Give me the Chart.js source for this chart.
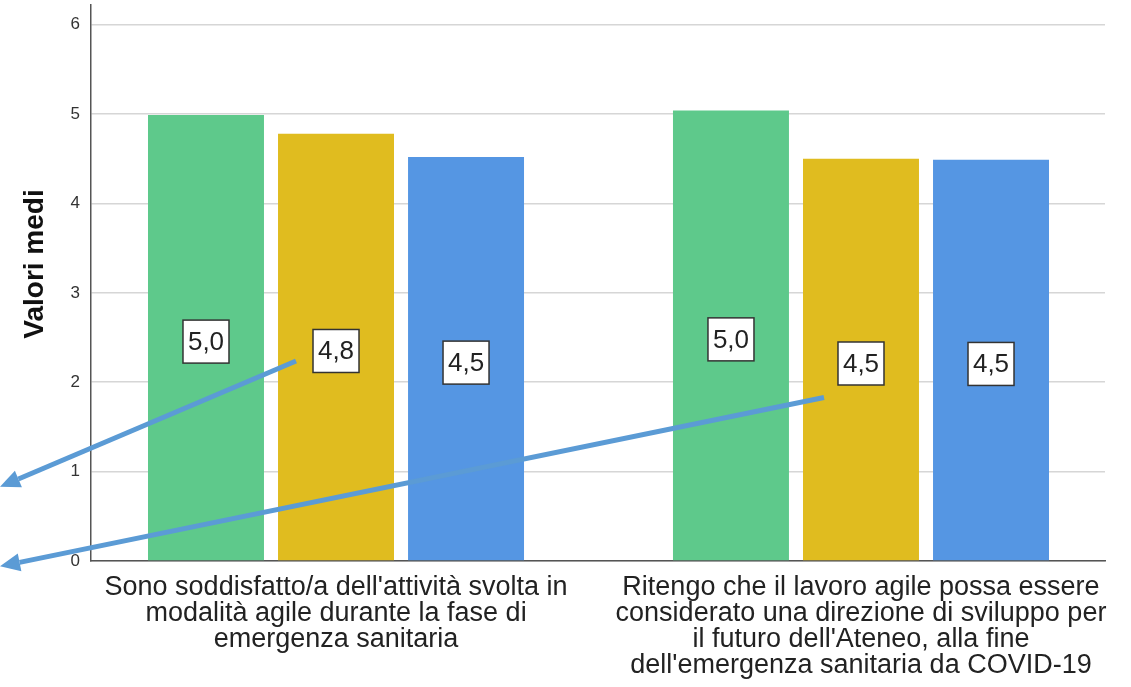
<!DOCTYPE html>
<html>
<head>
<meta charset="utf-8">
<script src="https://cdn.jsdelivr.net/npm/chart.js@4/dist/chart.umd.min.js"></script>
<style>
  html, body { margin: 0; padding: 0; background: #fff; }
</style>
</head>
<body>
<canvas id="chart" width="1131" height="687"></canvas>
<script>
// category labels, already broken into lines as in the picture
var categories = [
  ["Sono soddisfatto/a dell'attività svolta in", "modalità agile durante la fase di", "emergenza sanitaria"],
  ["Ritengo che il lavoro agile possa essere", "considerato una direzione di sviluppo per", "il futuro dell'Ateneo, alla fine", "dell'emergenza sanitaria da COVID-19"]
];
var greenValues = [4.99, 5.04];
var yellowValues = [4.78, 4.50];
var blueValues = [4.52, 4.49];
var yTicks = [0, 1, 2, 3, 4, 5, 6];
var yTitle = 'Valori medi';

var font = "'Liberation Sans', Arial, sans-serif";

function points(values) {
  return values.map(function (v, i) { return { x: i, y: v }; });
}

// white boxed value labels in the middle of each bar
var valueBoxes = {
  id: 'valueBoxes',
  afterDatasetsDraw: function (chart) {
    var ctx = chart.ctx;
    ctx.save();
    ctx.font = '26px ' + font;
    ctx.textAlign = 'center';
    ctx.textBaseline = 'middle';
    chart.data.datasets.forEach(function (ds, di) {
      chart.getDatasetMeta(di).data.forEach(function (bar, i) {
        var txt = ds.data[i].y.toFixed(1).replace('.', ',');
        var cx = bar.x;
        var cy = (bar.y + bar.base) / 2 + 4;
        var w = 46, h = 43;
        ctx.fillStyle = '#fff';
        ctx.fillRect(cx - w / 2, cy - h / 2, w, h);
        ctx.lineWidth = 1.5;
        ctx.strokeStyle = '#333';
        ctx.strokeRect(cx - w / 2, cy - h / 2, w, h);
        ctx.fillStyle = '#222';
        ctx.fillText(txt, cx, cy + 1);
      });
    });
    ctx.restore();
  }
};

// the two blue arrows pointing out of the chart on the left
var arrows = {
  id: 'arrows',
  afterDraw: function (chart) {
    var ctx = chart.ctx;
    var y = chart.scales.y;
    var defs = [
      { index: 0, dx: -40, dy: 10, endValue: 0.83 },
      { index: 1, dx: -37, dy: 34, endValue: -0.06 }
    ];
    ctx.save();
    ctx.strokeStyle = '#5b9bd5';
    ctx.fillStyle = '#5b9bd5';
    ctx.lineWidth = 5;
    defs.forEach(function (d) {
      var bar = chart.getDatasetMeta(1).data[d.index];
      var sx = bar.x + d.dx;
      var sy = (bar.y + bar.base) / 2 + 4 + d.dy;
      var ex = 0;
      var ey = y.getPixelForValue(d.endValue);
      var ang = Math.atan2(ey - sy, ex - sx);
      var len = 20, half = 9;
      var bx = ex - Math.cos(ang) * len, by = ey - Math.sin(ang) * len;
      ctx.beginPath();
      ctx.moveTo(sx, sy);
      ctx.lineTo(bx, by);
      ctx.stroke();
      ctx.beginPath();
      ctx.moveTo(ex, ey);
      ctx.lineTo(bx + Math.sin(ang) * half, by - Math.cos(ang) * half);
      ctx.lineTo(bx - Math.sin(ang) * half, by + Math.cos(ang) * half);
      ctx.closePath();
      ctx.fill();
    });
    ctx.restore();
  }
};

// y title, drawn by hand because it sits a bit above the middle of the axis
var yTitlePlugin = {
  id: 'yTitle',
  afterDraw: function (chart) {
    var ctx = chart.ctx;
    var area = chart.chartArea;
    ctx.save();
    ctx.translate(35, (area.top + area.bottom) / 2 - 19);
    ctx.rotate(-Math.PI / 2);
    ctx.font = 'bold 28px ' + font;
    ctx.fillStyle = '#111';
    ctx.textAlign = 'center';
    ctx.textBaseline = 'middle';
    ctx.fillText(yTitle, 0, 0);
    ctx.restore();
  }
};

new Chart(document.getElementById('chart'), {
  type: 'bar',
  data: {
    datasets: [
      { label: 'A', data: points(greenValues), backgroundColor: '#5ec98b' },
      { label: 'B', data: points(yellowValues), backgroundColor: '#e0bc1f' },
      { label: 'C', data: points(blueValues), backgroundColor: '#5596e3' }
    ]
  },
  options: {
    responsive: false,
    animation: false,
    devicePixelRatio: 1,
    categoryPercentage: 0.743,
    barPercentage: 0.892,
    layout: { padding: { top: 5, right: 26, left: 0, bottom: 0 } },
    plugins: {
      legend: { display: false },
      tooltip: { enabled: false }
    },
    scales: {
      x: {
        type: 'linear',
        offset: false,
        min: -0.4667,
        max: 1.4648,
        grid: { display: false, drawTicks: false, offset: false },
        border: { color: '#555', width: 1.5 },
        afterBuildTicks: function (s) {
          s.ticks = categories.map(function (c, i) { return { value: i }; });
        },
        afterFit: function (s) { s.height = 126; },
        ticks: {
          autoSkip: false,
          maxRotation: 0,
          padding: 14,
          color: '#222',
          font: { family: font, size: 27, lineHeight: '26px' },
          callback: function (v) { return categories[v]; }
        }
      },
      y: {
        min: 0,
        max: 6.22,
        afterBuildTicks: function (s) {
          s.ticks = yTicks.map(function (v) { return { value: v }; });
        },
        afterFit: function (s) { s.width = 91; s.paddingTop = 0; },
        grid: { color: '#d6d6d6', lineWidth: 1.5, drawTicks: false },
        border: { color: '#555', width: 1.5 },
        ticks: {
          padding: 11,
          color: '#333',
          font: { family: font, size: 17 }
        }
      }
    }
  },
  plugins: [valueBoxes, arrows, yTitlePlugin]
});
</script>
</body>
</html>
